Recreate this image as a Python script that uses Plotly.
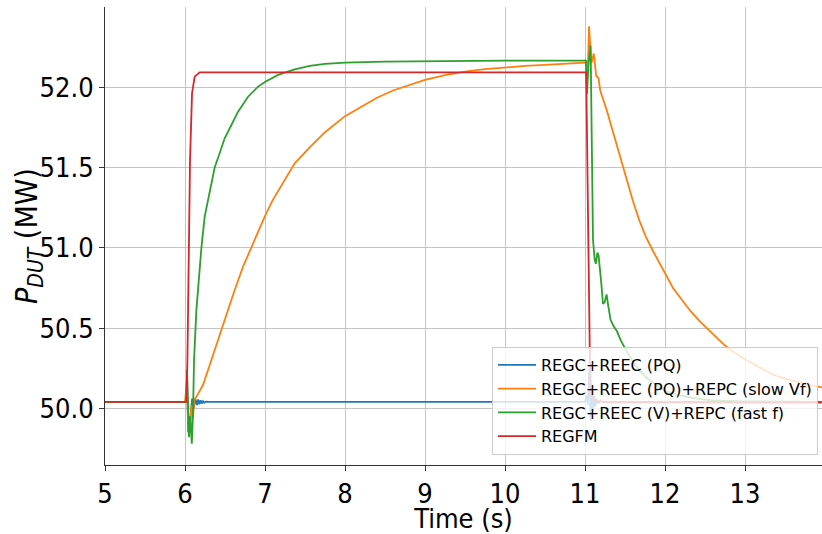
import plotly.graph_objects as go

# ---- data ----
blue_t = [5.0, 6.0, 6.015, 6.025, 6.04, 6.055, 6.07, 6.09, 6.11, 6.13, 6.15, 6.165, 6.18, 6.195,
          6.21, 6.225, 6.24, 6.26, 6.3, 11.0, 11.02, 11.035, 11.055, 11.07, 11.085, 11.1, 11.115,
          11.13, 11.145, 11.165, 11.185, 11.22, 13.96]
blue_v = [50.04, 50.04, 50.04, 50.20, 49.85, 49.88, 49.98, 50.06, 50.0, 50.06, 50.02, 50.055, 50.025,
          50.05, 50.03, 50.045, 50.035, 50.042, 50.04, 50.04, 50.08, 50.02, 50.26, 49.92, 50.12, 49.98,
          50.08, 50.01, 50.06, 50.03, 50.045, 50.04, 50.04]

orange_t = [5.0, 6.0, 6.02, 6.035, 6.05, 6.065, 6.08, 6.1, 6.115, 6.14, 6.184, 6.225, 6.288, 6.371,
            6.454, 6.538, 6.621, 6.725, 6.83, 6.92, 7.005, 7.1, 7.205, 7.371, 7.559, 7.75, 8.0, 8.2,
            8.4, 8.6, 8.8, 9.0, 9.25, 9.5, 9.75, 10.0, 10.25, 10.5, 10.75, 11.0, 11.02, 11.035, 11.05,
            11.08, 11.11, 11.14, 11.17, 11.19, 11.27, 11.39, 11.52, 11.6, 11.68, 11.76, 11.85, 12.0,
            12.1, 12.22, 12.32, 12.43, 12.58, 12.73, 12.86, 13.0, 13.18, 13.35, 13.5, 13.68, 13.82,
            13.96]
orange_v = [50.04, 50.04, 50.15, 49.95, 49.83, 49.9, 50.02, 49.94, 50.05, 50.07, 50.114, 50.145,
            50.239, 50.363, 50.5, 50.612, 50.737, 50.882, 51.007, 51.11, 51.204, 51.3, 51.391, 51.526,
            51.626, 51.72, 51.82, 51.88, 51.935, 51.98, 52.015, 52.046, 52.075, 52.098, 52.113, 52.125,
            52.133, 52.14, 52.148, 52.154, 52.16, 52.10, 52.38, 52.15, 52.21, 52.07, 52.056, 51.98,
            51.86, 51.65, 51.42, 51.29, 51.17, 51.07, 50.98, 50.84, 50.75, 50.67, 50.605, 50.545,
            50.47, 50.40, 50.35, 50.306, 50.255, 50.21, 50.185, 50.16, 50.145, 50.13]

green_t = [5.0, 6.0, 6.015, 6.025, 6.035, 6.05, 6.065, 6.085, 6.1, 6.113, 6.142, 6.171, 6.205, 6.246,
           6.288, 6.371, 6.433, 6.496, 6.58, 6.663, 6.788, 6.913, 7.005, 7.163, 7.371, 7.559, 7.75,
           8.0, 8.5, 9.0, 10.0, 11.0, 11.01, 11.025, 11.045, 11.07, 11.085, 11.1, 11.12, 11.135,
           11.155, 11.17, 11.2, 11.225, 11.245, 11.27, 11.29, 11.32, 11.36, 11.4, 11.45, 11.55, 11.64,
           11.75, 11.85, 12.0, 12.18, 12.4, 12.6, 12.9, 13.96]
green_v = [50.04, 50.04, 50.04, 50.24, 50.0, 49.82, 49.95, 49.78, 49.97, 50.30, 50.61, 50.82, 51.0,
           51.194, 51.298, 51.5, 51.589, 51.682, 51.765, 51.848, 51.941, 52.004, 52.035, 52.077,
           52.112, 52.133, 52.146, 52.154, 52.16, 52.163, 52.166, 52.166, 52.17, 51.96, 52.15, 52.26,
           51.6, 51.05, 50.93, 50.90, 50.97, 50.95, 50.8, 50.65, 50.66, 50.71, 50.64, 50.55, 50.51,
           50.48, 50.42, 50.33, 50.26, 50.2, 50.16, 50.11, 50.08, 50.06, 50.05, 50.045, 50.04]

red_t = [5.0, 6.0, 6.017, 6.03, 6.046, 6.063, 6.088, 6.121, 6.184, 11.0, 11.015, 11.03,
         11.045, 11.06, 11.075, 11.09, 11.11, 11.15, 11.3, 13.96]
red_v = [50.04, 50.04, 50.04, 50.3, 50.924, 51.547, 51.963, 52.066, 52.093, 52.093, 52.093,
         51.5, 50.9, 50.34, 50.1, 50.06, 50.05, 50.045, 50.038, 50.035]

names = ["REGC+REEC (PQ)", "REGC+REEC (PQ)+REPC (slow Vf)", "REGC+REEC (V)+REPC (fast f)", "REGFM"]
colors = ["#1f77b4", "#ff7f0e", "#2ca02c", "#d62728"]

x_ticks = [5, 6, 7, 8, 9, 10, 11, 12, 13]
y_ticks = [50.0, 50.5, 51.0, 51.5, 52.0]

FONT = "DejaVu Sans Condensed, DejaVu Sans, sans-serif"
LEGEND_FONT = "DejaVu Sans, sans-serif"

fig = go.Figure()
for t, v, n, c in zip([blue_t, orange_t, green_t, red_t], [blue_v, orange_v, green_v, red_v], names, colors):
    fig.add_trace(go.Scatter(x=t, y=v, mode="lines", name=n, line=dict(color=c, width=1.8)))

fig.update_layout(
    width=822, height=534,
    margin=dict(l=105, r=0, t=7, b=69),
    paper_bgcolor="white", plot_bgcolor="white",
    font=dict(family=FONT, color="black"),
    showlegend=True,
    legend=dict(
        x=0.9944, y=0.022, xanchor="right", yanchor="bottom",
        bgcolor="rgba(255,255,255,0.8)", bordercolor="#cccccc", borderwidth=1,
        font=dict(size=16, family=LEGEND_FONT), tracegroupgap=0, itemwidth=38,
    ),
    annotations=[dict(
        text="<i>P</i><sub><i>DUT</i></sub> (MW)", textangle=-90,
        xref="paper", yref="paper", x=-0.1075, y=0.5, xanchor="center", yanchor="middle",
        showarrow=False, font=dict(size=30, family=FONT, color="black"),
    )],
)
fig.update_xaxes(
    range=[5, 13.9625], tickvals=x_ticks, ticktext=[str(v) for v in x_ticks],
    showgrid=True, gridcolor="#c4c4c4", gridwidth=1,
    showline=True, linecolor="#333333", linewidth=1,
    ticks="outside", ticklen=5, tickcolor="#333333",
    tickfont=dict(size=27), zeroline=False, automargin=False,
    title=dict(text="Time (s)", font=dict(size=27), standoff=5),
)
fig.update_yaxes(
    range=[49.647, 52.5], tickvals=y_ticks, ticktext=[f"{v:.1f}" for v in y_ticks],
    showgrid=True, gridcolor="#c4c4c4", gridwidth=1,
    showline=True, linecolor="#333333", linewidth=1,
    ticks="outside", ticklen=5, tickcolor="#333333",
    tickfont=dict(size=27), zeroline=False, automargin=False,
)

fig.write_html(
    "out.html",
    config={"displayModeBar": False},
    post_script="document.body.style.margin='0';document.body.style.overflow='hidden';",
)
